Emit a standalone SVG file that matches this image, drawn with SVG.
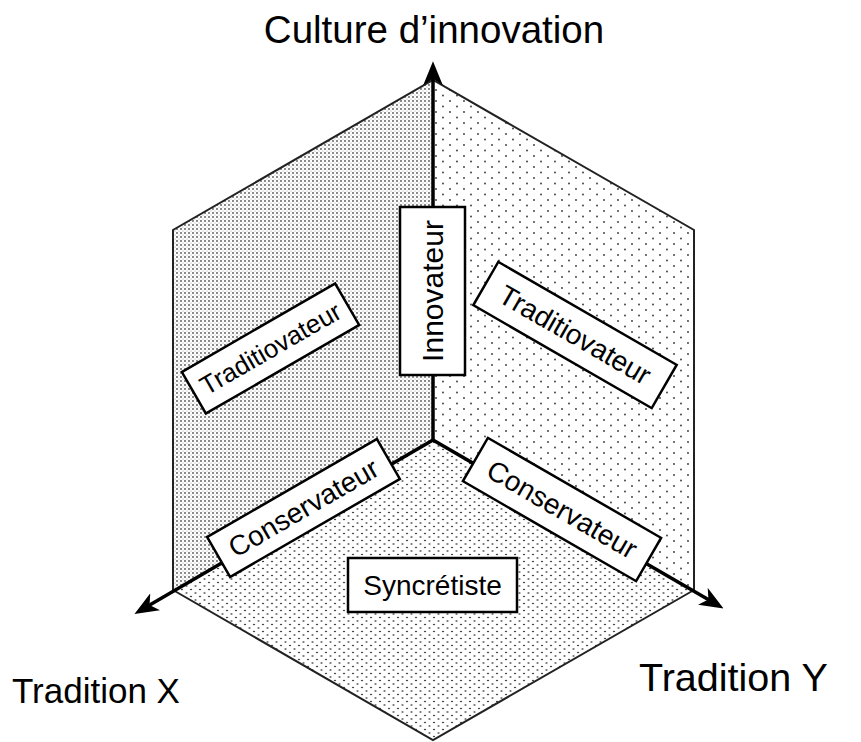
<svg xmlns="http://www.w3.org/2000/svg" width="861" height="742" viewBox="0 0 861 742">
<defs>
<style>
.lbl{font-family:"Liberation Sans",Arial,sans-serif;fill:#000;text-anchor:middle;dominant-baseline:central}
.box{fill:#fff;stroke:#000;stroke-width:2.5}
.edge{fill:none;stroke:#222;stroke-width:2}
.axis{fill:none;stroke:#000;stroke-width:3.5}
.title{font-family:"Liberation Sans",Arial,sans-serif;fill:#000}
</style>
<pattern id="pLeft" width="4" height="4" patternUnits="userSpaceOnUse">
<rect width="4" height="4" fill="#fff"/>
<circle cx="1" cy="1" r="0.9" fill="#555"/>
<circle cx="3" cy="3" r="0.55" fill="#999"/>
</pattern>
<pattern id="pRight" width="14" height="11" patternUnits="userSpaceOnUse">
<rect width="14" height="11" fill="#fff"/>
<circle cx="2" cy="2" r="0.9" fill="#333"/>
<circle cx="9" cy="7.5" r="0.9" fill="#333"/>
</pattern>
<pattern id="pFloor" width="9" height="7" patternUnits="userSpaceOnUse">
<rect width="9" height="7" fill="#fff"/>
<ellipse cx="2" cy="1.5" rx="1.2" ry="0.8" fill="#444"/>
<ellipse cx="6.5" cy="5" rx="1.2" ry="0.8" fill="#444"/>
</pattern>
<marker id="arr" markerUnits="userSpaceOnUse" markerWidth="24" markerHeight="20" viewBox="0 0 22 18" refX="14" refY="9" orient="auto">
<path d="M0,0 L22,9 L0,18 L6,9 z" fill="#000"/>
</marker>
</defs>
<rect width="861" height="742" fill="#fff"/>

<g id="panels">
<polygon id="wall-left" points="433,440 173,590 173,230 433,80" fill="url(#pLeft)"/>
<polygon id="wall-right" points="433,440 433,80 694,230 694,590" fill="url(#pRight)"/>
<polygon id="floor" points="433,440 173,590 433,740 694,590" fill="url(#pFloor)"/>
<polyline class="edge" points="173,590 173,230 433,80 694,230 694,590"/>
<polyline class="edge" points="173,590 433,740 694,590"/>
</g>

<g id="connectors">
<line class="axis" x1="433" y1="440" x2="433" y2="70" marker-end="url(#arr)"/>
<line class="axis" x1="433" y1="440" x2="142" y2="609.5" marker-end="url(#arr)"/>
<line class="axis" x1="433" y1="440" x2="716" y2="604" marker-end="url(#arr)"/>
</g>

<g id="axis-labels">
<text class="title" x="434" y="43" font-size="38.5" text-anchor="middle">Culture d’innovation</text>
<text class="title" x="12" y="703" font-size="35">Tradition X</text>
<text class="title" x="639" y="691" font-size="39.5">Tradition Y</text>
</g>

<g id="innovateur" transform="translate(432.5,291) rotate(-90)">
<rect class="box" x="-84" y="-32.5" width="168" height="65"/>
<text class="lbl" x="0" y="0" font-size="30">Innovateur</text>
</g>

<g id="traditiovateur-left" transform="translate(270.5,348.5) rotate(-30)">
<rect class="box" x="-88.5" y="-24" width="177" height="48"/>
<text class="lbl" x="0" y="0" font-size="26">Traditiovateur</text>
</g>

<g id="traditiovateur-right" transform="translate(575,335) rotate(30)">
<rect class="box" x="-103" y="-25" width="206" height="50"/>
<text class="lbl" x="0" y="0" font-size="28">Traditiovateur</text>
</g>

<g id="conservateur-left" transform="translate(303.5,508) rotate(-30)">
<rect class="box" x="-98" y="-23" width="196" height="46"/>
<text class="lbl" x="0" y="0" font-size="28">Conservateur</text>
</g>

<g id="conservateur-right" transform="translate(562,509.5) rotate(30)">
<rect class="box" x="-100" y="-25" width="200" height="50"/>
<text class="lbl" x="0" y="0" font-size="28">Conservateur</text>
</g>

<g id="syncretiste">
<rect class="box" x="348" y="558" width="169" height="54"/>
<text class="lbl" x="432.5" y="585" font-size="28">Syncrétiste</text>
</g>
</svg>
